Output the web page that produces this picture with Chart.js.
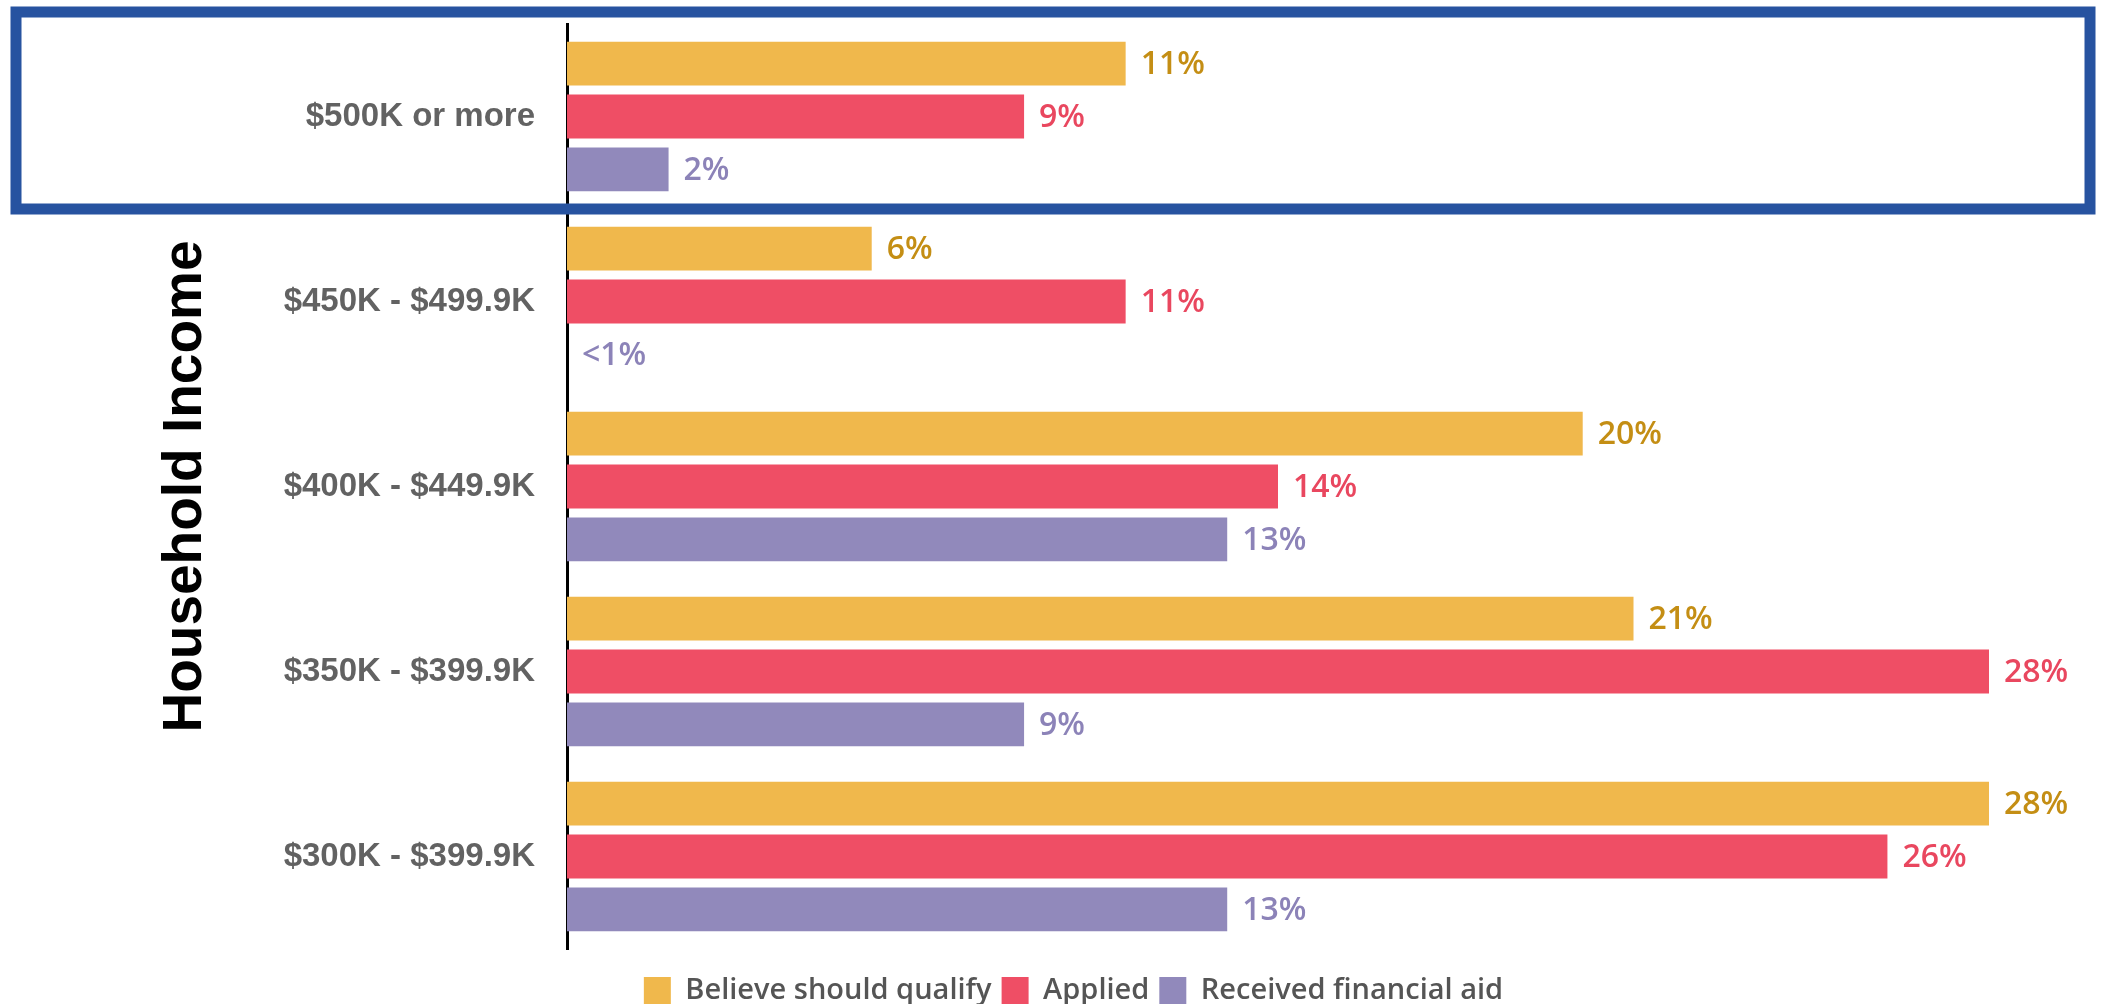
<!DOCTYPE html>
<html><head><meta charset="utf-8">
<script src="https://cdn.jsdelivr.net/npm/chart.js@4.4.0/dist/chart.umd.min.js"></script>
<style>html,body{margin:0;padding:0;background:#fff;}#wrap{width:2106px;height:1004px;}</style>
</head><body><div id="wrap"><canvas id="c" width="2106" height="1004"></canvas></div>
<script>
const categories = ['$500K or more', '$450K - $499.9K', '$400K - $449.9K', '$350K - $399.9K', '$300K - $399.9K'];
const seriesNames = ['Believe should qualify', 'Applied', 'Received financial aid'];
const believeValues = [11, 6, 20, 21, 28];
const appliedValues = [9, 11, 14, 28, 26];
const receivedValues = [2, 0, 13, 9, 13];
const believeLabels = ['11%', '6%', '20%', '21%', '28%'];
const appliedLabels = ['9%', '11%', '14%', '28%', '26%'];
const receivedLabels = ['2%', '<1%', '13%', '9%', '13%'];
const axisTitle = 'Household Income';

const barColors = ['#F0B84C', '#EF4E65', '#9189BB'];
const labelColors = ['#C48E14', '#E9475F', '#8C83B8'];
const valueLabels = [believeLabels, appliedLabels, receivedLabels];

const labelPlugin = {
  id: 'valueLabels',
  afterDatasetsDraw(chart) {
    const ctx = chart.ctx;
    ctx.save();
    ctx.font = '600 32px "Open Sans", sans-serif';
    ctx.textBaseline = 'middle';
    ctx.textAlign = 'left';
    chart.data.datasets.forEach((ds, di) => {
      const meta = chart.getDatasetMeta(di);
      meta.data.forEach((bar, i) => {
        ctx.fillStyle = labelColors[di];
        ctx.fillText(valueLabels[di][i], bar.x + 15, bar.y + 1);
      });
    });
    ctx.restore();
  }
};

const highlightPlugin = {
  id: 'highlight',
  afterDraw(chart) {
    const y = chart.scales.y;
    const c0 = y.getPixelForValue(0);
    const half = (y.getPixelForValue(1) - c0) / 2;
    const ctx = chart.ctx;
    ctx.save();
    ctx.strokeStyle = '#2753A0';
    ctx.lineWidth = 11;
    const top = c0 - half - 12;
    const bottom = c0 + half;
    ctx.strokeRect(16, top, chart.width - 32, bottom - top);
    ctx.restore();
  }
};

new Chart(document.getElementById('c'), {
  type: 'bar',
  data: {
    labels: categories,
    datasets: [
      { label: seriesNames[0], data: believeValues, backgroundColor: barColors[0] },
      { label: seriesNames[1], data: appliedValues, backgroundColor: barColors[1] },
      { label: seriesNames[2], data: receivedValues, backgroundColor: barColors[2] }
    ]
  },
  options: {
    indexAxis: 'y',
    responsive: false,
    devicePixelRatio: 1,
    animation: false,
    categoryPercentage: 0.858,
    barPercentage: 0.83,
    layout: { padding: { left: 158, right: 117, top: 24, bottom: -11 } },
    scales: {
      x: { display: false, min: 0, max: 28 },
      y: {
        grid: { display: false, drawTicks: false },
        border: { display: true, color: '#000', width: 3 },
        ticks: { color: '#626262', padding: 32, font: { family: '"Liberation Sans"', size: 33, weight: 'bold' } },
        title: { display: true, text: axisTitle, color: '#000', padding: { top: 0, bottom: 0 },
          font: { family: '"Liberation Sans"', size: 55, weight: 'bold', lineHeight: 1 } },
        afterFit(scale) { scale.width = 409; scale.paddingTop = 0; scale.paddingBottom = 0; }
      }
    },
    plugins: {
      legend: {
        position: 'bottom',
        title: { display: true, text: '', font: { size: 1, lineHeight: 1 }, padding: { top: 16, bottom: 0 } },
        labels: { boxWidth: 27, boxHeight: 27, padding: 10, color: '#555',
          font: { family: '"Open Sans"', size: 29, weight: '600' } }
      },
      tooltip: { enabled: false }
    }
  },
  plugins: [labelPlugin, highlightPlugin]
});
</script></body></html>
